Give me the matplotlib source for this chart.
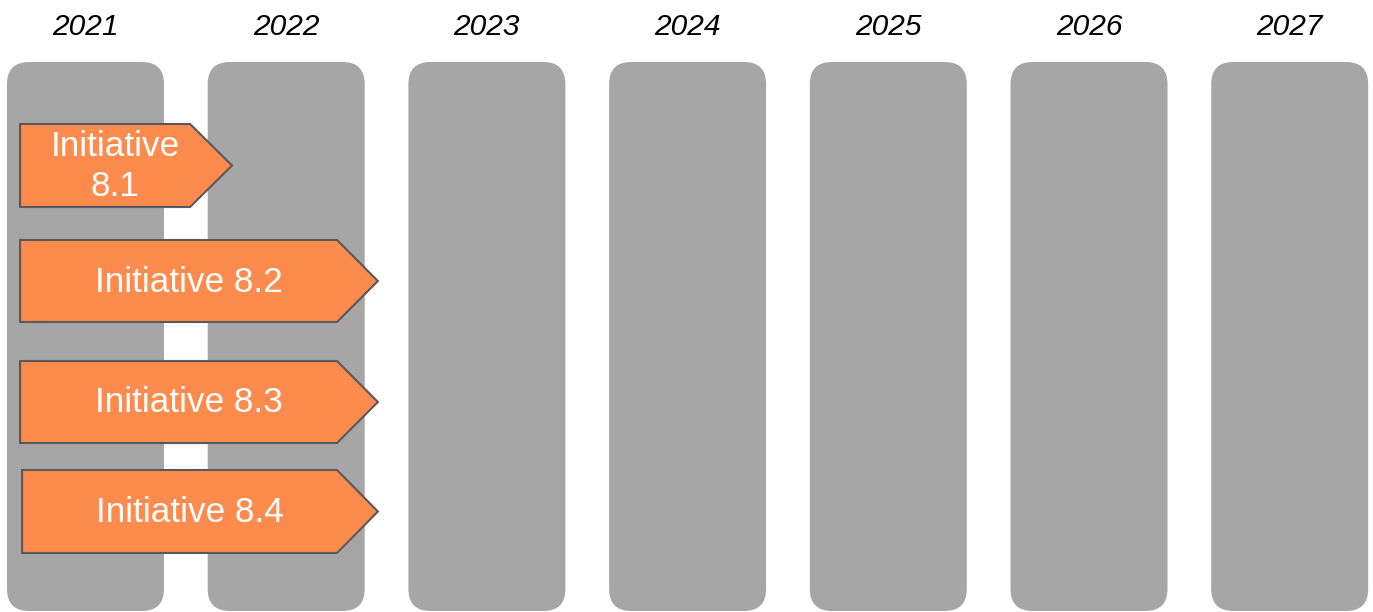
import matplotlib.pyplot as plt
from matplotlib.patches import FancyBboxPatch, Polygon

plt.rcParams['font.family'] = ['Liberation Sans', 'DejaVu Sans']

years = [2021, 2022, 2023, 2024, 2025, 2026, 2027]

# initiatives: label, start, body end, tip (in years), top/bottom (px rows)
labels = ['Initiative\n8.1', 'Initiative 8.2', 'Initiative 8.3', 'Initiative 8.4']
starts = [2020.674, 2020.674, 2020.674, 2020.684]
body_ends = [2021.521, 2022.253, 2022.253, 2022.253]
tips = [2021.730, 2022.457, 2022.457, 2022.457]
tops = [124, 240, 361, 470]
bottoms = [207, 322, 443, 553]

px_per_year = 200.7
col_w = 157 / px_per_year

fig = plt.figure(figsize=(13.73, 6.12), dpi=100)
ax = fig.add_axes([0, 0, 1, 1])
ax.set_xlim(2021 - 85.5 / px_per_year, 2021 + (1373 - 85.5) / px_per_year)
ax.set_ylim(612, 0)
ax.axis('off')

for yr in years:
    box = FancyBboxPatch((yr - col_w / 2, 62), col_w, 549,
                         boxstyle='round,pad=0,rounding_size=0.11',
                         mutation_aspect=px_per_year,
                         facecolor='#A6A6A6', edgecolor='none')
    ax.add_patch(box)
    ax.text(yr, 27, str(yr), ha='center', va='center', fontsize=21.5,
            style='italic', color='black')

for lab, x0, xb, xt, t, b in zip(labels, starts, body_ends, tips, tops, bottoms):
    mid = (t + b) / 2
    poly = Polygon([(x0, t), (xb, t), (xt, mid), (xb, b), (x0, b)], closed=True,
                   facecolor='#FD8B4E', edgecolor='#595959', linewidth=1.5)
    ax.add_patch(poly)
    ax.text((x0 + xb) / 2 + 0.05, mid + 1, lab, ha='center', va='center',
            fontsize=25.3, color='white', linespacing=1.3)

fig.savefig('out.png', dpi=100)
